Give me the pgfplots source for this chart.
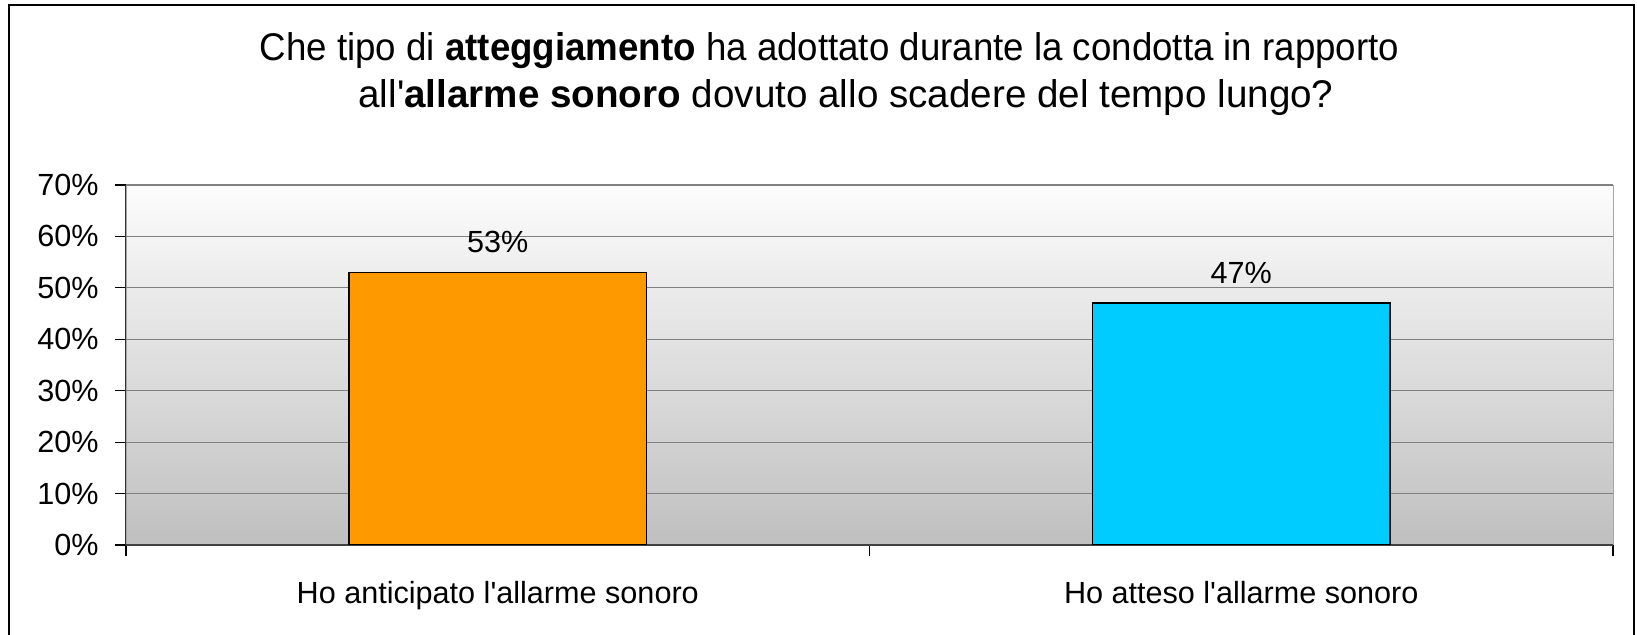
\documentclass[border=0pt]{standalone}
\usepackage{fontspec}
\setmainfont{Liberation Sans}
\usepackage{pgfplots}
\pgfplotsset{compat=1.18}

\definecolor{barorange}{HTML}{FF9900}
\definecolor{barblue}{HTML}{00CCFF}
\definecolor{gridgray}{HTML}{808080}

\begin{document}
\begin{tikzpicture}
  \useasboundingbox (-63pt,-45pt) rectangle (755.5pt,272.5pt);
  % chart frame
  \draw[line width=1pt, black] (-58.5pt,-50pt) -- (-58.5pt,270pt) -- (754pt,270pt) -- (754pt,-50pt);
  \begin{axis}[
      at={(0pt,0pt)}, anchor=south west,
      scale only axis,
      width=743.5pt, height=180pt,
      xmin=-0.5, xmax=1.5,
      ymin=0, ymax=70,
      axis x line*=bottom, axis y line*=left,
      axis line style={-},
      x axis line style={draw=black!75, line width=1.2pt},
      y axis line style={draw=black!80, line width=0.5pt},
      axis background/.style={top color=white!99!black, bottom color=black!25, draw=black!35},
      ymajorgrids, grid style={gridgray, line width=0.6pt},
      tick align=outside,
      major tick length=5.5pt, minor tick length=5.5pt,
      every tick/.style={black, line width=0.6pt},
      /pgf/number format/assume math mode=true,
      xtick={0,1},
      xticklabels={Ho anticipato l\textquotesingle allarme sonoro, Ho atteso l\textquotesingle allarme sonoro},
      major x tick style={draw=none},
      minor xtick={-0.5,0.5,1.5},
      ytick={0,10,...,70},
      yticklabels={0\%,10\%,20\%,30\%,40\%,50\%,60\%,70\%},
      tick label style={font=\fontsize{15.3pt}{18pt}\selectfont},
      xticklabel style={yshift=-9pt},
      yticklabel style={xshift=-4.7pt},
      ybar, bar width=0.4,
      nodes near coords={\pgfmathprintnumber{\pgfplotspointmeta}\%},
      every node near coord/.append style={font=\fontsize{15.3pt}{18pt}\selectfont, anchor=south, yshift=6pt},
    ]
    \addplot[bar shift=0pt, fill=barorange, draw=black, line width=0.8pt] coordinates {(0,53)};
    \addplot[bar shift=0pt, fill=barblue, draw=black, line width=0.8pt] coordinates {(1,47)};
  \end{axis}
  % title, one node per line
  \node[font=\fontsize{19.3pt}{23.5pt}\selectfont, anchor=base] at (351.75pt,242.25pt)
    {\scalebox{0.95}[1]{Che tipo di \textbf{atteggiamento} ha adottato durante la condotta in rapporto}};
  \node[font=\fontsize{19.3pt}{23.5pt}\selectfont, anchor=base] at (360pt,218.75pt)
    {all\textquotesingle\textbf{allarme sonoro} dovuto allo scadere del tempo lungo?};
\end{tikzpicture}
\end{document}
